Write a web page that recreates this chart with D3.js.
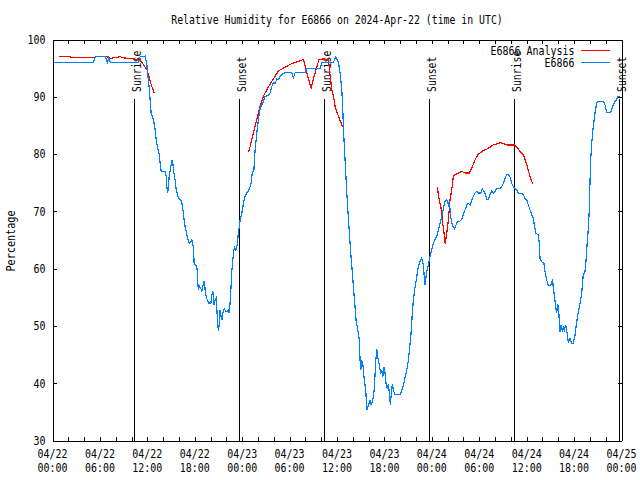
<!DOCTYPE html>
<html><head><meta charset="utf-8">
<script src="https://cdn.jsdelivr.net/npm/d3@7"></script>
<style>html,body{margin:0;padding:0;background:#fff;}svg{display:block;}</style>
</head><body>
<svg id="chart" width="640" height="480"></svg>
<script>
// ---------- data ----------
const chartTitle = "Relative Humidity for E6866 on 2024-Apr-22 (time in UTC)";
const yAxisTitle = "Percentage";
const startTime = "2024-04-22T00:00:00Z";
const endTime = "2024-04-25T00:00:00Z";
const yTickValues = [30, 40, 50, 60, 70, 80, 90, 100];
const xLabelHours = [0, 6, 12, 18, 24, 30, 36, 42, 48, 54, 60, 66, 72];
const xMinorHours = d3.range(0, 73, 2);
const seriesNames = ["E6866 Analysis", "E6866"];
const seriesColors = ["#ff0000", "#0080ff"];
const sunEventNames = ["Sunrise", "Sunset", "Sunrise", "Sunset", "Sunrise", "Sunset"];
const sunEventHours = [10.37, 23.65, 34.37, 47.69, 58.40, 71.74];

// Analysis (red) — null marks a gap between model runs
const analysisHours = [0.76,2.24,2.30,5.40,5.53,6.67,6.88,7.30,7.72,8.56,8.98,9.61,10.25,10.68,11.09,11.51,11.94,12.14,12.36,12.57,12.86,
  18.0,
  24.79,25.01,25.42,25.85,26.27,26.69,27.12,27.75,28.59,29.22,30.28,31.12,31.75,32.18,32.72,33.23,33.73,34.28,34.92,35.13,35.34,35.63,35.76,36.18,36.61,36.73,
  42.0,
  48.70,48.82,49.04,49.25,49.38,49.54,49.67,49.76,49.89,50.09,50.30,50.52,50.72,50.94,51.36,51.78,52.20,52.74,53.05,53.47,53.89,54.52,55.15,55.78,56.72,57.55,58.53,59.16,59.58,60.01,60.42,60.76];
const analysisValues = [97.1,97.1,96.9,96.9,97.1,97.1,97.0,96.7,96.8,97.0,96.8,96.7,96.6,96.5,96.4,95.6,94.75,93.9,92.7,91.8,90.7,
  null,
  80.3,81.3,83.7,86.0,88.3,90.1,91.25,92.7,94.5,95.0,95.8,96.2,96.5,94.2,91.5,94.2,96.5,96.6,96.5,93.6,91.25,89.5,88.3,86.6,85.1,84.8,
  null,
  74.3,72.9,71.4,70.0,67.9,66.2,64.4,65.0,66.2,68.5,72.0,73.75,76.1,76.4,76.7,77.0,76.7,76.7,77.5,79.0,80.0,80.6,81.0,81.6,82.0,81.6,81.6,80.45,79.9,78.1,76.1,74.8];

// Observations (blue)
const obsHours = [0.13,5.19,5.40,6.67,6.96,7.11,7.30,10.84,11.09,11.73,11.94,12.07,12.27,12.36,12.48,12.78,12.99,13.12,13.28,13.50,13.62,13.75,14.26,14.38,14.47,14.55,14.67,14.76,15.01,15.10,15.23,15.30,15.52,15.65,15.94,16.24,16.37,16.57,16.70,16.91,17.08,17.33,17.63,17.76,17.83,17.92,18.26,18.34,18.39,18.47,18.59,18.77,18.90,19.02,19.19,19.28,19.35,19.53,19.73,20.04,20.16,20.29,20.36,20.45,20.58,20.70,20.79,20.87,21.00,21.13,21.21,21.30,21.43,21.55,21.72,21.85,21.97,22.26,22.35,22.48,22.57,22.69,22.82,22.89,23.02,23.20,23.32,23.45,23.53,23.65,23.74,23.96,24.16,24.37,24.59,24.79,25.01,25.13,25.30,25.48,25.55,25.64,25.77,25.89,26.06,26.27,26.49,26.69,26.90,27.32,27.54,27.75,27.95,28.17,28.38,28.59,28.80,29.02,29.43,30.28,30.48,30.70,31.96,32.18,33.86,34.11,35.54,35.85,36.18,36.39,36.61,36.73,36.81,36.93,37.11,37.24,37.40,37.57,37.74,37.95,38.07,38.25,38.41,38.63,38.83,38.92,39.01,39.14,39.26,39.34,39.46,39.64,39.77,39.89,40.02,40.18,40.31,40.44,40.60,40.73,40.82,40.91,41.03,41.11,41.24,41.36,41.54,41.66,41.79,41.96,42.08,42.21,42.37,42.50,42.63,42.75,42.88,43.01,43.13,43.35,43.98,44.19,44.40,44.61,44.83,45.03,45.24,45.37,45.50,45.66,45.88,46.09,46.29,46.51,46.72,46.92,47.14,47.35,47.56,47.77,47.99,48.19,48.41,48.62,48.82,49.04,49.25,49.46,49.67,49.89,50.09,50.22,50.39,50.59,50.85,51.06,51.23,51.48,51.78,51.99,52.20,52.42,52.62,52.84,53.05,53.25,53.47,53.68,53.88,54.19,54.39,54.61,54.77,54.95,55.15,55.36,55.58,55.78,55.99,56.21,56.63,56.84,57.05,57.26,57.47,57.68,57.89,58.11,58.31,58.53,58.74,58.94,59.37,59.58,59.79,60.01,60.21,60.42,60.64,60.84,60.97,61.05,61.18,61.47,61.60,61.69,61.90,62.19,62.32,62.54,62.74,63.04,63.17,63.29,63.37,63.50,63.67,63.80,63.93,64.05,64.13,64.22,64.35,64.51,64.64,64.76,64.94,65.07,65.27,65.48,65.70,65.90,66.12,66.33,66.53,66.75,66.96,67.16,67.38,67.50,67.67,67.80,67.92,68.01,68.10,68.23,68.43,68.65,68.86,69.07,69.70,69.91,70.13,70.63,70.88,71.17,71.38,71.59,71.81];
const obsValues = [96.0,96.0,97.0,97.0,96.0,96.8,96.0,96.0,97.0,97.1,95.6,93.6,91.2,89.2,87.2,86.0,84.2,82.5,81.3,79.9,78.4,77.0,77.0,76.1,74.3,73.2,74.0,76.1,78.1,79.0,78.4,77.2,75.5,73.8,72.3,72.0,71.4,69.7,67.9,66.5,65.3,64.4,65.0,64.1,63.8,61.0,60.3,59.2,57.4,56.25,56.9,56.5,56.1,56.9,57.9,56.8,55.7,54.8,54.0,54.0,55.4,56.0,55.1,53.6,54.5,54.8,53.3,50.7,49.1,50.7,52.75,51.9,51.0,52.2,53.0,52.75,52.45,52.75,52.2,54.2,56.25,59.5,61.5,62.7,63.8,63.25,63.8,65.0,66.75,67.3,68.5,69.7,71.4,72.6,73.2,73.5,74.3,74.9,77.0,77.0,79.0,80.75,82.5,84.25,86.0,88.0,88.6,89.2,90.1,90.2,90.7,91.8,92.4,92.4,93.1,93.0,93.6,93.9,94.2,94.2,93.3,94.2,94.2,95.0,95.0,96.0,96.0,97.0,96.0,94.2,91.25,87.75,84.8,81.3,76.7,73.2,69.7,66.2,62.7,59.2,56.8,53.9,51.0,49.25,47.5,44.0,42.25,44.0,43.4,42.25,40.5,38.75,35.25,35.8,36.4,37.0,36.25,36.7,37.6,39.3,41.7,44.0,46.0,44.9,44.0,43.1,41.7,42.25,41.1,42.8,41.7,39.9,39.0,39.9,38.2,36.25,38.2,39.9,38.75,38.0,38.0,38.75,39.6,41.1,42.25,44.0,46.9,48.7,51.6,54.5,56.8,58.6,60.3,61.3,61.8,60.6,57.1,59.5,60.6,62.1,63.25,64.4,65.1,65.6,66.75,67.9,69.1,70.5,71.7,72.1,71.1,71.7,69.1,67.6,67.0,67.6,68.2,68.2,68.6,69.4,70.25,71.1,71.4,71.1,72.0,72.6,73.2,73.5,73.2,73.2,73.9,73.5,72.9,72.1,72.1,72.9,73.5,73.2,73.5,74.0,74.0,74.3,74.9,75.8,76.4,76.4,76.0,74.9,74.3,74.0,73.75,73.2,73.1,72.9,72.3,72.0,71.1,70.25,69.4,68.8,67.6,67.0,66.2,65.9,64.4,61.8,61.2,60.9,59.5,58.0,57.1,57.1,57.7,58.0,56.5,55.4,53.3,52.2,53.9,53.0,50.7,48.9,50.1,49.25,49.8,49.25,50.1,49.25,47.2,47.8,47.0,47.0,48.4,50.7,52.5,53.9,55.7,58.9,59.5,61.2,64.7,67.0,70.25,74.9,79.0,81.9,84.8,87.2,88.9,89.2,89.2,88.6,87.2,87.2,88.3,89.2,89.5,90.1,90.1];

// ---------- drawing ----------
const FONT = "'DejaVu Sans Mono', 'Liberation Mono', monospace";
const svg = d3.select("#chart");
const t0 = new Date(startTime), t1 = new Date(endTime);
const hourToDate = h => new Date(t0.getTime() + h * 3600e3);

const plotLeft = 52.5, plotRight = 621.5, plotTop = 39.5, plotBottom = 440.5;
const x = d3.scaleUtc().domain([t0, t1]).range([plotLeft, plotRight]);
const y = d3.scaleLinear().domain([30, 100]).range([plotBottom, plotTop]);

function label(g, str, px, py, anchor, cw) {
  return g.append("text")
    .attr("x", px).attr("y", py)
    .attr("text-anchor", anchor)
    .attr("font-family", FONT).attr("font-size", 12)
    .attr("textLength", str.length * cw)
    .attr("lengthAdjust", "spacingAndGlyphs")
    .attr("fill", "#000")
    .text(str);
}

const axes = svg.append("g").attr("shape-rendering", "crispEdges");
const minorDates = xMinorHours.map(hourToDate);
axes.append("g").attr("transform", `translate(0,${plotBottom})`)
  .call(d3.axisBottom(x).tickValues(minorDates).tickSize(-4).tickSizeOuter(0).tickFormat(""));
axes.append("g").attr("transform", `translate(0,${plotTop})`)
  .call(d3.axisTop(x).tickValues(minorDates).tickSize(-4).tickSizeOuter(0).tickFormat(""));
axes.append("g").attr("transform", `translate(${plotLeft},0)`)
  .call(d3.axisLeft(y).tickValues(yTickValues).tickSize(-4).tickSizeOuter(0).tickFormat(""));
axes.append("g").attr("transform", `translate(${plotRight},0)`)
  .call(d3.axisRight(y).tickValues(yTickValues).tickSize(-4).tickSizeOuter(0).tickFormat(""));
axes.selectAll("path.domain").attr("stroke", "#000").attr("stroke-width", 1);
axes.selectAll(".tick line").attr("stroke", "#000").attr("stroke-width", 1);

const txt = svg.append("g");
yTickValues.forEach(v => label(txt, String(v), 45.5, y(v) + 4.3, "end", 6));
const fmtD = d3.utcFormat("%m/%d"), fmtT = d3.utcFormat("%H:%M");
xLabelHours.forEach(h => {
  const d = hourToDate(h);
  label(txt, fmtD(d), x(d), 458, "middle", 6);
  label(txt, fmtT(d), x(d), 471.5, "middle", 6);
});
label(txt, chartTitle, (plotLeft + plotRight) / 2, 24, "middle", 5.92);
label(txt, yAxisTitle, 0, 0, "middle", 6.1).attr("transform", "translate(15,241) rotate(-90)");

// sunrise / sunset markers
const sun = svg.append("g");
sunEventHours.forEach((h, i) => {
  const px = Math.round(x(hourToDate(h)) - 0.5) + 0.5;
  sun.append("line").attr("x1", px).attr("x2", px).attr("y1", 98.5).attr("y2", plotBottom)
    .attr("stroke", "#000").attr("stroke-width", 1).attr("shape-rendering", "crispEdges");
  label(sun, sunEventNames[i], 0, 0, "start", 5.9)
    .attr("transform", `translate(${px + 6},92) rotate(-90)`);
});

// series (aliased 1px lines like the bitmap original)
const line = d3.line().defined(d => d[1] != null)
  .x(d => x(hourToDate(d[0]))).y(d => y(d[1]));
const redData = d3.zip(analysisHours, analysisValues);
const blueData = d3.zip(obsHours, obsValues);
const plot = svg.append("g").attr("shape-rendering", "crispEdges");
plot.append("path").datum(redData).attr("d", line)
  .attr("fill", "none").attr("stroke", seriesColors[0]).attr("stroke-width", 1.2);
plot.append("path").datum(blueData).attr("d", line)
  .attr("fill", "none").attr("stroke", seriesColors[1]).attr("stroke-width", 1.2);

// legend
const leg = svg.append("g");
seriesNames.forEach((name, i) => {
  const ly = 50.5 + i * 12;
  label(leg, name, 574.5, ly + 4.3, "end", 6);
  leg.append("line").attr("x1", 581).attr("x2", 610).attr("y1", ly).attr("y2", ly)
    .attr("stroke", seriesColors[i]).attr("stroke-width", 1).attr("shape-rendering", "crispEdges");
});
</script>
</body></html>
